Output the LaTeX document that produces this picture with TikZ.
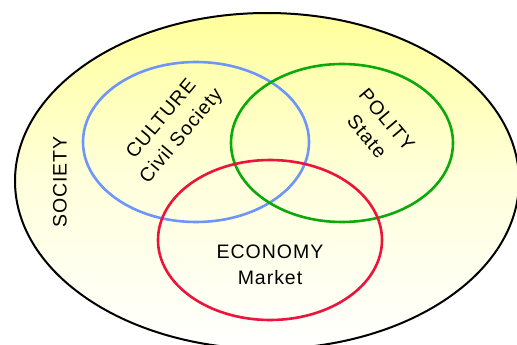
\documentclass[tikz,border=0pt]{standalone}
\usepackage{fontspec}
\setmainfont{Liberation Sans}[LetterSpace=5]
\usetikzlibrary{shapes.geometric}
\definecolor{cblue}{RGB}{110,150,250}
\definecolor{cgreen}{RGB}{10,170,10}
\definecolor{cred}{RGB}{235,20,60}
\definecolor{cyel}{RGB}{255,255,155}
\tikzset{
  ring/.style={ellipse, draw, line width=2.6pt, inner sep=0pt},
  label/.style={align=center, inner sep=0pt, font=\fontsize{19.5}{26}\selectfont},
}
\begin{document}
\begin{tikzpicture}[x=1pt,y=-1pt]
\useasboundingbox (0,0) rectangle (517,345);
\fill[white] (0,0) rectangle (517,345);
\begin{scope}
\clip (0,0) rectangle (517,345);
\node[ellipse, draw=black, line width=2pt, inner sep=0pt,
      minimum width=504pt, minimum height=336pt,
      top color=cyel, bottom color=white, middle color=cyel!35]
      (soc) at (267,181) {};
\end{scope}
\node[ring, draw=cblue, minimum width=226pt, minimum height=160pt] (cul) at (196,142) {};
\node[ring, draw=cgreen, minimum width=222pt, minimum height=158pt] (pol) at (342,143) {};
\node[ring, draw=cred, minimum width=224pt, minimum height=160pt] (eco) at (270,240) {};
\node[label, rotate=90] (soct) at (60,182) {SOCIETY};
\node[label, rotate=50] (cult) at (172,128) {CULTURE\\Civil Society};
\node[label, rotate=-50] (polt) at (377,128) {POLITY\\State};
\node[label] (ecot) at (270,265) {ECONOMY\\Market};
\end{tikzpicture}
\end{document}
